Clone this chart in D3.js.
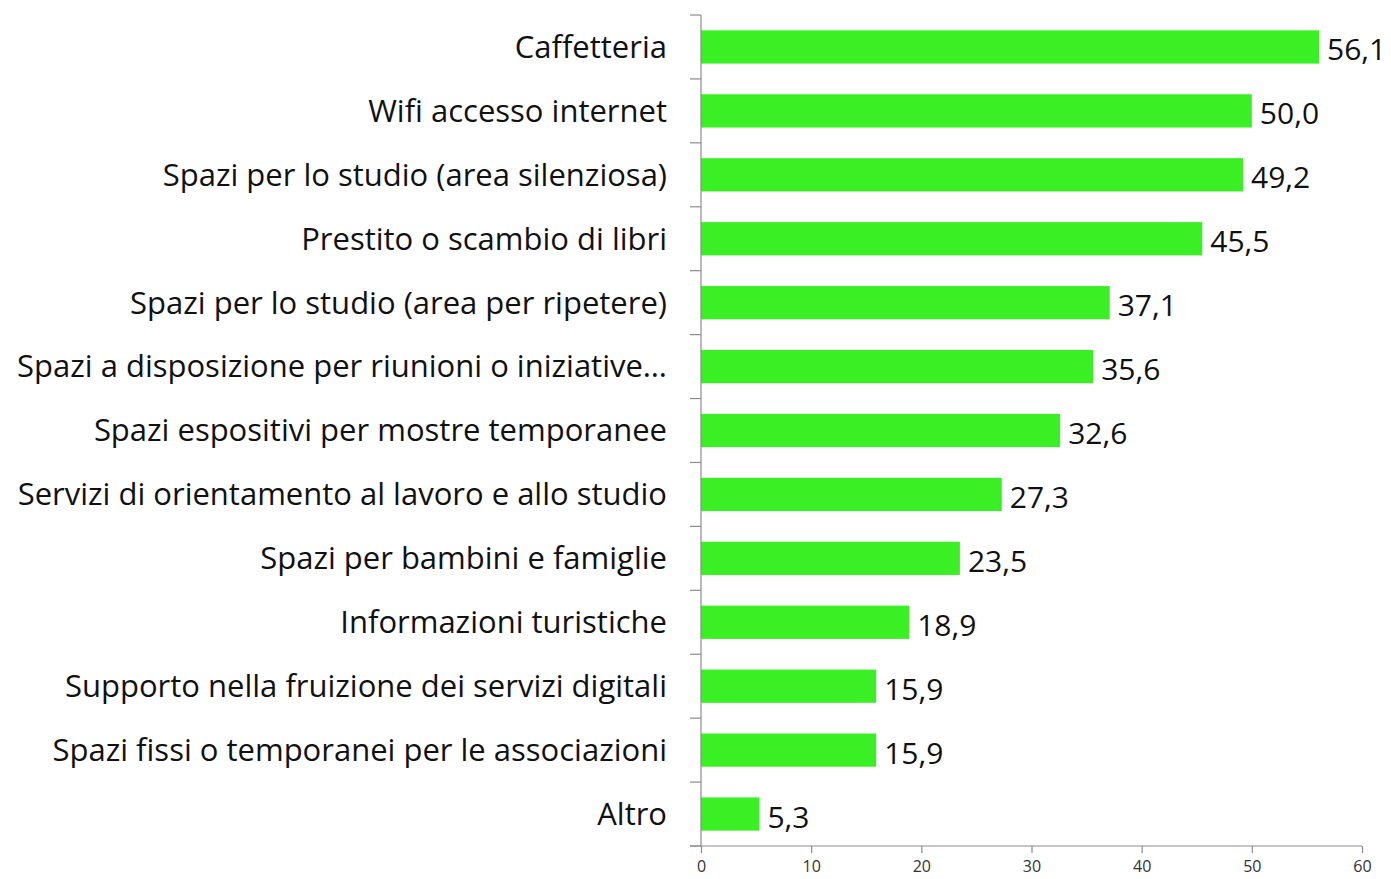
<!DOCTYPE html>
<html>
<head>
<meta charset="utf-8">
<script src="https://cdn.jsdelivr.net/npm/d3@7"></script>
<style>
  body { margin: 0; background: #fff; }
  svg { display: block; }
  text { font-variant-ligatures: none; }
</style>
</head>
<body>
<svg width="1391" height="879"></svg>
<script>
// Servizi desiderati (%)
const categorie = [
    "Caffetteria",
    "Wifi accesso internet",
    "Spazi per lo studio (area silenziosa)",
    "Prestito o scambio di libri",
    "Spazi per lo studio (area per ripetere)",
    "Spazi a disposizione per riunioni o iniziative…",
    "Spazi espositivi per mostre temporanee",
    "Servizi di orientamento al lavoro e allo studio",
    "Spazi per bambini e famiglie",
    "Informazioni turistiche",
    "Supporto nella fruizione dei servizi digitali",
    "Spazi fissi o temporanei per le associazioni",
    "Altro"
];
const valori = [56.1, 50.0, 49.2, 45.5, 37.1, 35.6, 32.6, 27.3, 23.5, 18.9, 15.9, 15.9, 5.3];
const tickX = [0, 10, 20, 30, 40, 50, 60];

const dati = categorie.map((c, i) => ({cat: c, val: valori[i]}));

const font = "'Open Sans', 'Noto Sans', sans-serif";

const svg = d3.select("svg");
const margin = { top: 15, right: 29, bottom: 33, left: 701 };
const width = +svg.attr("width") - margin.left - margin.right;
const height = +svg.attr("height") - margin.top - margin.bottom;

const g = svg.append("g")
    .attr("transform", `translate(${margin.left},${margin.top})`);

const x = d3.scaleLinear().domain([0, 60]).range([0, width]);
const y = d3.scaleBand().domain(categorie).range([0, height]).paddingInner(0.48).paddingOuter(0.24);

const fmt = v => v.toFixed(1).replace(".", ",");

// barre
g.selectAll("rect")
  .data(dati)
  .join("rect")
  .attr("x", 0)
  .attr("y", d => y(d.cat))
  .attr("width", d => x(d.val))
  .attr("height", y.bandwidth())
  .attr("fill", "#3af024");

// asse Y: linea e tacche tra le categorie
const step = height / categorie.length;
g.append("line")
  .attr("x1", 0).attr("x2", 0).attr("y1", 0).attr("y2", height)
  .attr("stroke", "#8c8c8c").attr("stroke-width", 1.2);
g.selectAll("line.ytick")
  .data(d3.range(categorie.length + 1))
  .join("line")
  .attr("class", "ytick")
  .attr("x1", -11).attr("x2", 0)
  .attr("y1", i => i * step).attr("y2", i => i * step)
  .attr("stroke", "#8c8c8c").attr("stroke-width", 1.2);

// etichette categorie
g.selectAll("text.cat")
  .data(dati)
  .join("text")
  .attr("class", "cat")
  .attr("x", -34)
  .attr("y", d => y(d.cat) + y.bandwidth() / 2)
  .attr("dy", "0.35em")
  .attr("text-anchor", "end")
  .attr("font-family", font)
  .attr("font-size", 31)
  .attr("fill", "#111")
  .text(d => d.cat);

// asse X
const ax = g.append("g")
  .attr("transform", `translate(0,${height})`)
  .call(d3.axisBottom(x).tickValues(tickX).tickSize(7).tickSizeOuter(0).tickPadding(8));
ax.select(".domain").attr("stroke", "#8c8c8c").attr("stroke-width", 1.2).attr("d", `M-11,0H${width}`);
ax.selectAll(".tick line").attr("stroke", "#8c8c8c").attr("stroke-width", 1.2);
ax.selectAll("text")
  .attr("font-family", font)
  .attr("font-size", 16)
  .attr("fill", "#333");

// valori sulle barre
g.selectAll("text.val")
  .data(dati)
  .join("text")
  .attr("class", "val")
  .attr("x", d => x(d.val) + 8)
  .attr("y", d => y(d.cat) + y.bandwidth() / 2 + 3)
  .attr("dy", "0.35em")
  .attr("font-family", font)
  .attr("font-size", 30)
  .attr("fill", "#111")
  .text(d => fmt(d.val));
</script>
</body>
</html>
